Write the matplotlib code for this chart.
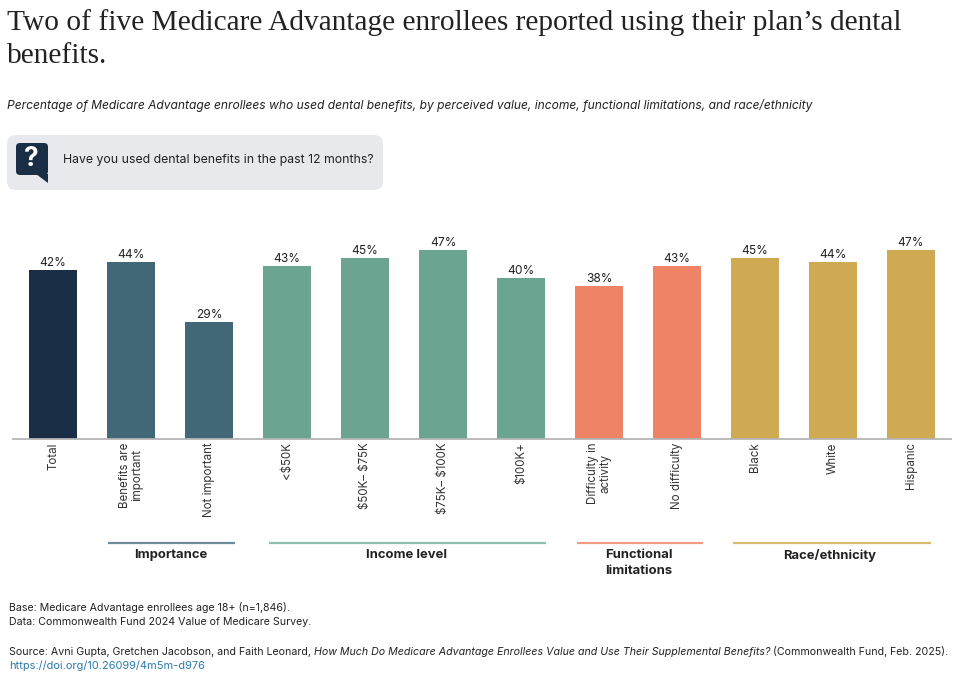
import matplotlib
matplotlib.use('Agg')
import matplotlib.pyplot as plt
from matplotlib.patches import FancyBboxPatch, Polygon

W, H = 975, 676
SANS = ['Inter', 'DejaVu Sans']
plt.rcParams['font.family'] = SANS
plt.rcParams['text.parse_math'] = False

labels = ['Total', 'Benefits are\nimportant', 'Not important', '<$50K', '$50K\u2013 $75K',
          '$75K\u2013 $100K', '$100K+', 'Difficulty in\nactivity', 'No difficulty',
          'Black', 'White', 'Hispanic']
values = [42, 44, 29, 43, 45, 47, 40, 38, 43, 45, 44, 47]
colors = ['#1a2f45', '#426776', '#426776', '#6ba591', '#6ba591', '#6ba591', '#6ba591',
          '#ee8465', '#ee8465', '#cfaa52', '#cfaa52', '#cfaa52']
group_names = ['Importance', 'Income level', 'Functional\nlimitations', 'Race/ethnicity']
group_spans = [(0.71, 2.33), (2.77, 6.32), (6.72, 8.33), (8.72, 11.26)]
group_colors = ['#6f8c9b', '#8fbfad', '#f29c84', '#d9bb70']
group_label_px = [170.5, 406, 639, 829.5]


def fx(px):
    return px / W


def fy(py):
    return 1 - py / H


fig = plt.figure(figsize=(W / 100, H / 100), dpi=100, facecolor='white')

# chart area, baseline at y=439px
ax = fig.add_axes([fx(13), fy(439), (951 - 13) / W, (439 - 200) / H])
x = list(range(len(values)))
ax.bar(x, values, width=0.615, color=colors)
ax.set_xlim(-0.513, 11.513)
ax.set_ylim(0, 239 / 4.02)
for i, v in zip(x, values):
    ax.text(i, v + 0.35, '%d%%' % v, ha='center', va='bottom', fontsize=8.6, color='#222222')
ax.set_xticks(x)
ax.set_xticklabels(labels, rotation=90, fontsize=8.3, color='#333333', linespacing=1.1,
                   ha='center', va='top', multialignment='center')
ax.tick_params(axis='x', length=0, pad=2.5)
ax.set_yticks([])
for s in ['top', 'left', 'right']:
    ax.spines[s].set_visible(False)
ax.spines['bottom'].set_color('#b5b5b5')
ax.spines['bottom'].set_linewidth(1.3)

# group brackets under the labels
trans = ax.get_xaxis_transform()
bracket_y = (439 - 543) / 239
for name, (a, b), c, lx in zip(group_names, group_spans, group_colors, group_label_px):
    ax.plot([a, b], [bracket_y, bracket_y], color=c, lw=1.6, transform=trans,
            clip_on=False, solid_capstyle='butt')
    fig.text(fx(lx), fy(549), name, ha='center', va='top',
             fontsize=9.4, fontweight='bold', color='#222222', linespacing=1.4)

# title + subtitle
fig.text(fx(7), fy(9), 'Two of five Medicare Advantage enrollees reported using their plan\u2019s dental\nbenefits.',
         family=['Liberation Serif'], fontsize=21.2, color='#222222', va='top', linespacing=1.36)
fig.text(fx(7), fy(105), 'Percentage of Medicare Advantage enrollees who used dental benefits, by perceived value, '
         'income, functional limitations, and race/ethnicity',
         fontsize=8.68, style='italic', color='#222222', va='center')

# question box
bg = fig.add_axes([0, 0, 1, 1], zorder=-1)
bg.set_xlim(0, W)
bg.set_ylim(H, 0)
bg.axis('off')
bg.add_patch(FancyBboxPatch((7, 135), 376, 55, boxstyle='round,pad=0,rounding_size=9',
                            fc='#e8e9ed', ec='none'))
bg.add_patch(FancyBboxPatch((16, 143), 32, 32, boxstyle='round,pad=0,rounding_size=4',
                            fc='#1a2f45', ec='none'))
bg.add_patch(Polygon([[36, 174], [48, 174], [48, 183]], closed=True, fc='#1a2f45', ec='none'))
bg.text(31.5, 159, '?', color='white', fontsize=19, fontweight='bold', ha='center', va='center')
bg.text(63, 160, 'Have you used dental benefits in the past 12 months?', fontsize=8.84,
        color='#222222', va='center')

# notes
note_size = 7.65
fig.text(fx(9), fy(611), 'Base: Medicare Advantage enrollees age 18+ (n=1,846).', fontsize=note_size,
         color='#222222', va='baseline')
fig.text(fx(9), fy(625), 'Data: Commonwealth Fund 2024 Value of Medicare Survey.', fontsize=note_size,
         color='#222222', va='baseline')

# source line has an italic piece in the middle, so place the pieces one after the other
pieces = [('Source: Avni Gupta, Gretchen Jacobson, and Faith Leonard, ', 'normal'),
          ('How Much Do Medicare Advantage Enrollees Value and Use Their Supplemental Benefits?', 'italic'),
          (' (Commonwealth Fund, Feb. 2025).', 'normal')]
renderer = fig.canvas.get_renderer()
px = 9
for txt, st in pieces:
    t = fig.text(fx(px), fy(655), txt.replace(' ', '\u00a0'), fontsize=note_size, style=st,
                 color='#222222', va='baseline')
    px += t.get_window_extent(renderer).width
fig.text(fx(9), fy(669), 'https://doi.org/10.26099/4m5m-d976', fontsize=7.95, color='#2d7bab', va='baseline')

fig.savefig('out.png', dpi=100)
